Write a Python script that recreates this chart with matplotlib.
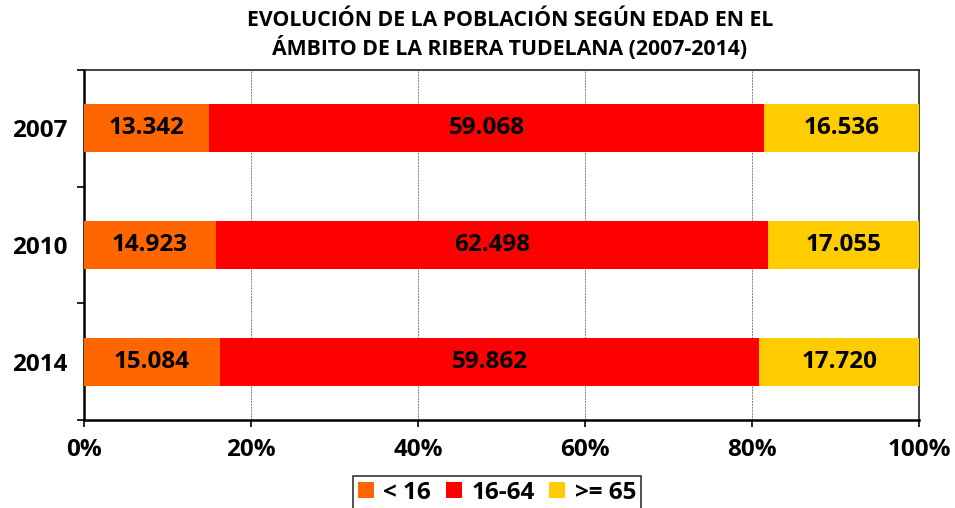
import matplotlib
matplotlib.use("Agg")
import matplotlib.pyplot as plt
import numpy as np
from matplotlib.ticker import FixedLocator, PercentFormatter

years = ["2007", "2010", "2014"]
under16 = [13342, 14923, 15084]
age16_64 = [59068, 62498, 59862]
over65 = [16536, 17055, 17720]
series_names = ["< 16", "16-64", ">= 65"]
colors = ["#FF6600", "#FF0000", "#FFCC00"]
title = "EVOLUCIÓN DE LA POBLACIÓN SEGÚN EDAD EN EL\nÁMBITO DE LA RIBERA TUDELANA (2007-2014)"

plt.rcParams['font.family'] = ['Open Sans', 'DejaVu Sans']
plt.rcParams['font.weight'] = 'bold'

FS = 17.5

fig = plt.figure(figsize=(9.55, 5.08), dpi=100)
ax = fig.add_axes([84/955, 1-420/508, (919-84)/955, (420-70)/508])

data = np.array([under16, age16_64, over65], dtype=float)
totals = data.sum(axis=0)
pct = data / totals * 100
y = np.arange(len(years))
left = np.zeros(len(years))
for i, name in enumerate(series_names):
    bars = ax.barh(y, pct[i], left=left, height=0.41, color=colors[i], label=name, zorder=3)
    for j, b in enumerate(bars):
        txt = f"{int(data[i][j]):,}".replace(",", ".")
        ax.text(left[j] + pct[i][j]/2, y[j], txt, ha='center', va='center',
                fontsize=FS, fontweight='bold', color='black', zorder=4)
    left += pct[i]

ax.set_xlim(0, 100)
ax.set_ylim(2.5, -0.5)
ax.set_xticks(np.arange(0, 101, 20))
ax.xaxis.set_major_formatter(PercentFormatter(decimals=0))
ax.set_yticks(y)
ax.set_yticklabels(years)
ax.yaxis.set_minor_locator(FixedLocator([-0.5, 0.5, 1.5, 2.5]))
ax.tick_params(axis='y', which='major', length=0, pad=12, labelsize=FS)
ax.tick_params(axis='y', which='minor', length=5, width=1.2, direction='out')
ax.tick_params(axis='x', which='major', length=5, width=1.2, direction='out', pad=8, labelsize=FS)
for lbl in ax.get_xticklabels() + ax.get_yticklabels():
    lbl.set_fontweight('bold')

ax.grid(axis='x', color='#808080', linestyle=(0, (2, 1)), linewidth=0.7, zorder=0)
for s in ['left', 'bottom']:
    ax.spines[s].set_linewidth(1.8)
    ax.spines[s].set_color('black')
for s in ['top', 'right']:
    ax.spines[s].set_linewidth(1.2)
    ax.spines[s].set_color('#222222')

fig.text(510/955, 1-35/508, title, ha='center', va='center', fontsize=15.3,
         fontweight='bold', linespacing=1.22)

leg = fig.legend(loc='upper center', bbox_to_anchor=(497/955, 1-476/508), ncol=3,
                 frameon=True, fancybox=False, edgecolor='black',
                 prop={'weight': 'bold', 'size': FS}, handlelength=0.65,
                 handleheight=0.65, handletextpad=0.4, columnspacing=0.6,
                 borderpad=0.2, borderaxespad=0)
leg.get_frame().set_linewidth(1.2)

fig.savefig("out.png", dpi=100)
